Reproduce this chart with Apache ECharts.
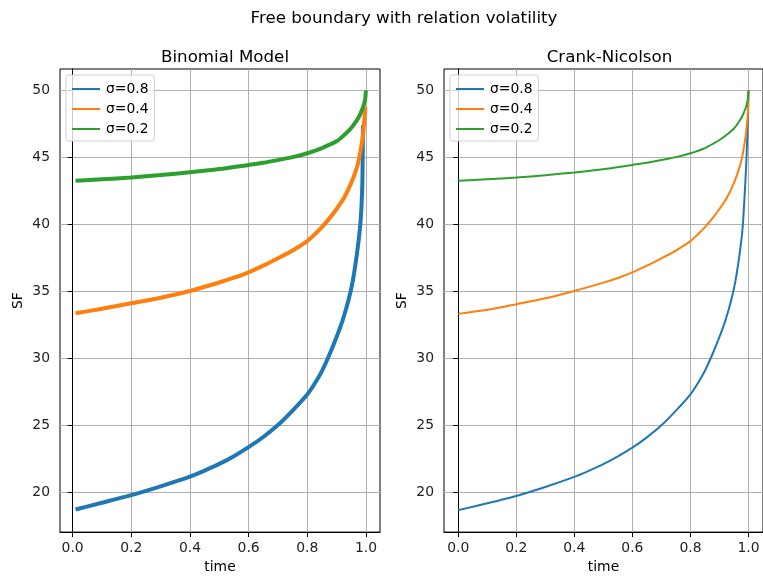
<!DOCTYPE html>
<html>
<head>
<meta charset="utf-8">
<script src="https://cdn.jsdelivr.net/npm/echarts@6/dist/echarts.min.js"></script>
<style>
html,body{margin:0;padding:0;background:#fff;}
#chart{width:763px;height:579px;}
</style>
</head>
<body>
<div id="chart"></div>
<script>
// ---- data ----
const seriesNames = ['σ=0.8', 'σ=0.4', 'σ=0.2'];
const xTicks = [0, 0.2, 0.4, 0.6, 0.8, 1.0];
const yTicks = [20, 25, 30, 35, 40, 45, 50];

// Binomial model
const binTime08 = [0.01, 0.1, 0.2, 0.3, 0.4, 0.45, 0.5, 0.55, 0.6, 0.65, 0.7, 0.75, 0.8, 0.825, 0.85, 0.875, 0.9, 0.92, 0.94, 0.955, 0.97, 0.98, 0.985, 0.988, 0.99];
const binSF08   = [18.72, 19.22, 19.79, 20.45, 21.17, 21.62, 22.12, 22.7, 23.37, 24.13, 25.02, 26.1, 27.3, 28.1, 29.05, 30.25, 31.6, 32.8, 34.3, 35.75, 37.9, 39.8, 41.4, 43.2, 47.4];
const binTime04 = [0.01, 0.1, 0.2, 0.3, 0.4, 0.5, 0.55, 0.6, 0.65, 0.7, 0.75, 0.8, 0.825, 0.85, 0.875, 0.9, 0.925, 0.95, 0.97, 0.98, 0.99, 0.995, 0.998];
const binSF04   = [33.37, 33.7, 34.11, 34.52, 35.03, 35.66, 36.02, 36.42, 36.92, 37.47, 38.05, 38.75, 39.25, 39.8, 40.43, 41.15, 41.97, 43.1, 44.3, 45.3, 46.7, 47.9, 48.8];
const binTime02 = [0.01, 0.1, 0.2, 0.3, 0.4, 0.5, 0.6, 0.65, 0.7, 0.75, 0.8, 0.85, 0.9, 0.925, 0.95, 0.97, 0.98, 0.99, 0.995, 0.998, 1.0];
const binSF02   = [43.25, 43.37, 43.5, 43.68, 43.9, 44.13, 44.44, 44.6, 44.8, 45.02, 45.31, 45.7, 46.2, 46.65, 47.2, 47.8, 48.2, 48.75, 49.1, 49.45, 50.0];

// Crank-Nicolson
const cnTime08 = [0, 0.1, 0.2, 0.3, 0.4, 0.45, 0.5, 0.55, 0.6, 0.65, 0.7, 0.75, 0.8, 0.825, 0.85, 0.875, 0.9, 0.92, 0.94, 0.955, 0.97, 0.98, 0.99, 0.995, 0.998, 1.0];
const cnSF08   = [18.67, 19.18, 19.73, 20.4, 21.15, 21.6, 22.1, 22.68, 23.33, 24.1, 25.0, 26.1, 27.32, 28.13, 29.08, 30.27, 31.6, 32.8, 34.3, 35.77, 37.9, 39.8, 43.5, 46.0, 47.8, 50.0];
const cnTime04 = [0, 0.1, 0.2, 0.3, 0.4, 0.5, 0.55, 0.6, 0.65, 0.7, 0.75, 0.8, 0.825, 0.85, 0.875, 0.9, 0.925, 0.95, 0.97, 0.98, 0.99, 0.995, 0.998, 1.0];
const cnSF04   = [33.32, 33.62, 34.04, 34.48, 35.03, 35.65, 36.0, 36.42, 36.92, 37.47, 38.05, 38.75, 39.25, 39.8, 40.43, 41.15, 41.97, 43.1, 44.33, 45.22, 46.57, 47.55, 48.44, 50.0];
const cnTime02 = [0, 0.1, 0.2, 0.3, 0.4, 0.5, 0.6, 0.65, 0.7, 0.75, 0.8, 0.85, 0.9, 0.925, 0.95, 0.97, 0.98, 0.99, 0.995, 0.998, 1.0];
const cnSF02   = [43.25, 43.37, 43.5, 43.67, 43.88, 44.12, 44.44, 44.6, 44.81, 45.02, 45.31, 45.7, 46.3, 46.69, 47.16, 47.76, 48.15, 48.67, 49.05, 49.4, 50.0];

const colors = ['#1f77b4', '#ff7f0e', '#2ca02c'];
const pair = (t, v) => t.map((x, i) => [x, v[i]]);

const FONT = 'DejaVu Sans';

function xAxisCfg(gridIndex, min, max) {
  return {
    type: 'value', gridIndex, min, max,
    name: 'time', nameLocation: 'middle', nameGap: 26,
    nameTextStyle: { fontFamily: FONT, fontSize: 13.9, color: '#000' },
    axisLine: { show: true, lineStyle: { color: '#000', width: 1 } },
    axisTick: { show: true, length: 5, lineStyle: { color: '#000', width: 1 }, customValues: xTicks },
    axisLabel: { customValues: xTicks, margin: 9, fontFamily: FONT, fontSize: 13.9, color: '#222',
      formatter: v => v.toFixed(1) },
    splitLine: { show: true, lineStyle: { color: '#b0b0b0', width: 1 } }
  };
}
function yAxisCfg(gridIndex) {
  return {
    type: 'value', gridIndex, min: 17.03, max: 51.6,
    name: 'SF', nameLocation: 'middle', nameGap: 35, nameRotate: 90,
    nameTextStyle: { fontFamily: FONT, fontSize: 13.9, color: '#000' },
    axisLine: { show: true, lineStyle: { color: '#000', width: 1 } },
    axisTick: { show: true, length: 5, lineStyle: { color: '#000', width: 1 }, customValues: yTicks },
    axisLabel: { customValues: yTicks, margin: 10, fontFamily: FONT, fontSize: 13.9, color: '#222' },
    splitLine: { show: true, lineStyle: { color: '#b0b0b0', width: 1 } }
  };
}
function legendCfg(left, top) {
  return {
    left, top, orient: 'vertical',
    data: seriesNames.map((n, i) => ({ name: n, itemStyle: { color: colors[i] } })),
    icon: 'rect', itemWidth: 28, itemHeight: 2, itemGap: 6,
    padding: [7, 6, 5, 6],
    backgroundColor: 'rgba(255,255,255,0.8)',
    borderColor: '#d0d0d0', borderWidth: 1, borderRadius: 3,
    textStyle: { fontFamily: FONT, fontSize: 13.9, color: '#000', lineHeight: 14, padding: [0, 0, 0, 1] },
    selectedMode: false
  };
}

const series = [];
const binData = [pair(binTime08, binSF08), pair(binTime04, binSF04), pair(binTime02, binSF02)];
const cnData = [pair(cnTime08, cnSF08), pair(cnTime04, cnSF04), pair(cnTime02, cnSF02)];
binData.forEach((d, i) => series.push({
  name: seriesNames[i], type: 'line', xAxisIndex: 0, yAxisIndex: 0, data: d,
  showSymbol: false, symbol: 'none', color: colors[i], smooth: 0.25,
  lineStyle: { width: 4, color: colors[i] }, animation: false, z: 2 + i
}));
cnData.forEach((d, i) => series.push({
  name: seriesNames[i], type: 'line', xAxisIndex: 1, yAxisIndex: 1, data: d,
  showSymbol: false, symbol: 'none', color: colors[i], smooth: 0.25,
  lineStyle: { width: 2, color: colors[i] }, animation: false, z: 2 + i
}));

const chart = echarts.init(document.getElementById('chart'), null, { renderer: 'canvas' });
chart.setOption({
  animation: false,
  backgroundColor: '#fff',
  title: [
    { text: 'Free boundary with relation volatility', left: 399, top: 5, textAlign: 'center',
      textStyle: { fontFamily: FONT, fontSize: 16.7, fontWeight: 'normal', color: '#000' } },
    { text: 'Binomial Model', left: 220, top: 44, textAlign: 'center',
      textStyle: { fontFamily: FONT, fontSize: 16.7, fontWeight: 'normal', color: '#000' } },
    { text: 'Crank-Nicolson', left: 604.5, top: 44, textAlign: 'center',
      textStyle: { fontFamily: FONT, fontSize: 16.7, fontWeight: 'normal', color: '#000' } }
  ],
  legend: [legendCfg(66, 75), legendCfg(450, 75)],
  grid: [
    { left: 60, right: 383, top: 69, bottom: 44, show: true, borderColor: '#000', borderWidth: 1, containLabel: false },
    { left: 444, right: -3, top: 69, bottom: 44, show: true, borderColor: '#000', borderWidth: 1, containLabel: false }
  ],
  xAxis: [xAxisCfg(0, -0.043, 1.048), xAxisCfg(1, -0.049, 1.05)],
  yAxis: [yAxisCfg(0), yAxisCfg(1)],
  series
});
</script>
</body>
</html>
